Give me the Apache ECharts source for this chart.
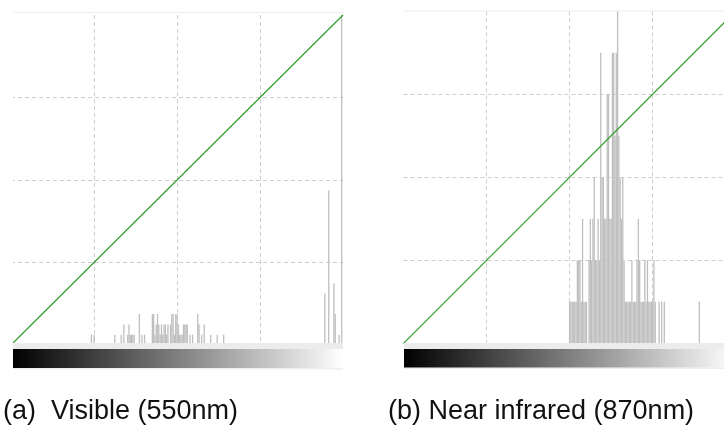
<!DOCTYPE html>
<html><head><meta charset="utf-8">
<script src="https://cdn.jsdelivr.net/npm/echarts@6/dist/echarts.min.js"></script>
<style>html,body{margin:0;padding:0;background:#fff}#c{width:724px;height:426px}</style>
</head><body><div id="c"></div>
<script>
const captions = ['(a)  Visible (550nm)', '(b) Near infrared (870nm)'];
// histogram (a): intensity bin -> count
const binsA   = [62,64,80,85,87,90,91,92,93,94,95,99,101,103,109,110,111,112,113,114,115,116,117,118,119,120,121,123,124,125,126,127,128,129,130,131,132,133,134,135,136,138,140,144,145,147,149,154,159,164,242,245,249,250,253,255];
const countsA = [1,1,1,1,2,1,2,1,1,1,1,3,1,1,3,3,1,2,3,2,1,2,1,2,2,1,2,2,3,3,1,3,3,2,1,1,1,2,2,2,2,1,1,3,2,1,2,1,1,1,5,15,6,3,1,33];
// histogram (b)
const binsB   = [128,129,130,131,132,133,134,135,136,137,138,139,140,141,143,144,145,146,147,148,149,150,151,152,153,154,155,156,157,158,159,160,161,162,163,164,165,166,167,168,169,170,171,172,173,174,175,176,177,178,179,180,181,182,183,184,185,186,187,188,189,190,191,192,193,194,197,199,201,228];
const countsB = [1,1,1,1,1,1,2,2,2,1,3,1,1,1,2,3,2,3,4,2,2,3,2,7,4,4,3,3,6,6,3,3,7,7,5,7,8,5,4,3,4,2,1,1,1,1,1,2,1,1,1,2,3,2,1,1,1,2,1,2,1,1,1,1,2,1,1,1,1,1];
// tone curve (identity)
const curveIn  = [0, 256];
const curveOut = [0, 256];
const xMaxA = 256, xMaxB = 247, xTick = 64, curveMax = 256;   // panel (b) is cut at the right edge
const yMaxA = 32, yTickA = 8;
const yMaxB = 8, yTickB = 2;

const chart = echarts.init(document.getElementById('c'), null, {renderer: 'canvas'});
const dash = {show: true, showMinLine: false, showMaxLine: false, lineStyle: {color: '#cdcdcd', type: [4, 3], width: 1}};
function xAx(g, mx) {
  return {type: 'value', gridIndex: g, min: 0, max: mx, interval: xTick,
    axisLine: {show: false}, axisTick: {show: false}, axisLabel: {show: false}, splitLine: dash};
}
function yHist(g, mx, it) {
  return {type: 'value', gridIndex: g, min: 0, max: mx, interval: it,
    axisLine: {show: false}, axisTick: {show: false}, axisLabel: {show: false}, splitLine: dash};
}
function yCurve(g) {
  return {type: 'value', gridIndex: g, min: 0, max: curveMax, show: false, splitLine: {show: false}};
}
const pairs = (a, b) => a.map((v, i) => [v, b[i]]);
const grad = () => new echarts.graphic.LinearGradient(0, 0, 1, 0, [{offset: 0, color: '#000'}, {offset: 1, color: '#fff'}]);
const font = "'Liberation Sans', Arial, Helvetica, sans-serif";
const green = '#2f9e2f';

chart.setOption({
  animation: false,
  backgroundColor: '#fff',
  title: [
    {text: captions[0], left: 3, top: 398, padding: 0, textStyle: {fontSize: 27, fontWeight: 'normal', color: '#111', fontFamily: font}},
    {text: captions[1], left: 388, top: 398, padding: 0, textStyle: {fontSize: 27, fontWeight: 'normal', color: '#111', fontFamily: font}}
  ],
  grid: [
    {left: 11, top: 15, width: 332, height: 330},
    {left: 403.5, top: 11.3, right: 0, height: 332}
  ],
  xAxis: [xAx(0, xMaxA), xAx(1, xMaxB)],
  yAxis: [yHist(0, yMaxA, yTickA), yCurve(0), yHist(1, yMaxB, yTickB), yCurve(1)],
  series: [
    {type: 'bar', xAxisIndex: 0, yAxisIndex: 0, data: pairs(binsA, countsA), barWidth: 1.3, itemStyle: {color: '#bfbfbf'}, clip: true},
    {type: 'line', xAxisIndex: 0, yAxisIndex: 1, data: pairs(curveIn, curveOut), symbol: 'none', itemStyle: {color: green}, lineStyle: {color: green, width: 1.2}},
    {type: 'bar', xAxisIndex: 1, yAxisIndex: 2, data: pairs(binsB, countsB), barWidth: 1.3, itemStyle: {color: '#bfbfbf'}, clip: true},
    {type: 'line', xAxisIndex: 1, yAxisIndex: 3, data: pairs(curveIn, curveOut), symbol: 'none', itemStyle: {color: green}, lineStyle: {color: green, width: 1.2}}
  ],
  graphic: [
    {type: 'rect', z: 100, shape: {x: 0, y: 0, width: 13, height: 380}, style: {fill: '#fff'}},
    {type: 'rect', z: 100, shape: {x: 13, y: 12, width: 330, height: 1}, style: {fill: '#eeeeee'}},
    {type: 'rect', z: 100, shape: {x: 404, y: 10.5, width: 332, height: 1}, style: {fill: '#eeeeee'}},
    {type: 'rect', z: 100, shape: {x: 13, y: 343, width: 330, height: 6}, style: {fill: '#ececec'}},
    {type: 'rect', z: 100, shape: {x: 404, y: 343, width: 332, height: 6}, style: {fill: '#ececec'}},
    {type: 'rect', z: 101, shape: {x: 13, y: 349, width: 330, height: 19}, style: {fill: grad()}},
    {type: 'rect', z: 101, shape: {x: 404, y: 349, width: 332, height: 18.5}, style: {fill: grad()}},
    {type: 'rect', z: 100, shape: {x: 13, y: 368, width: 330, height: 1.5}, style: {fill: '#eeeeee'}},
    {type: 'rect', z: 100, shape: {x: 404, y: 367.5, width: 332, height: 1.5}, style: {fill: '#eeeeee'}}
  ]
});
</script></body></html>
